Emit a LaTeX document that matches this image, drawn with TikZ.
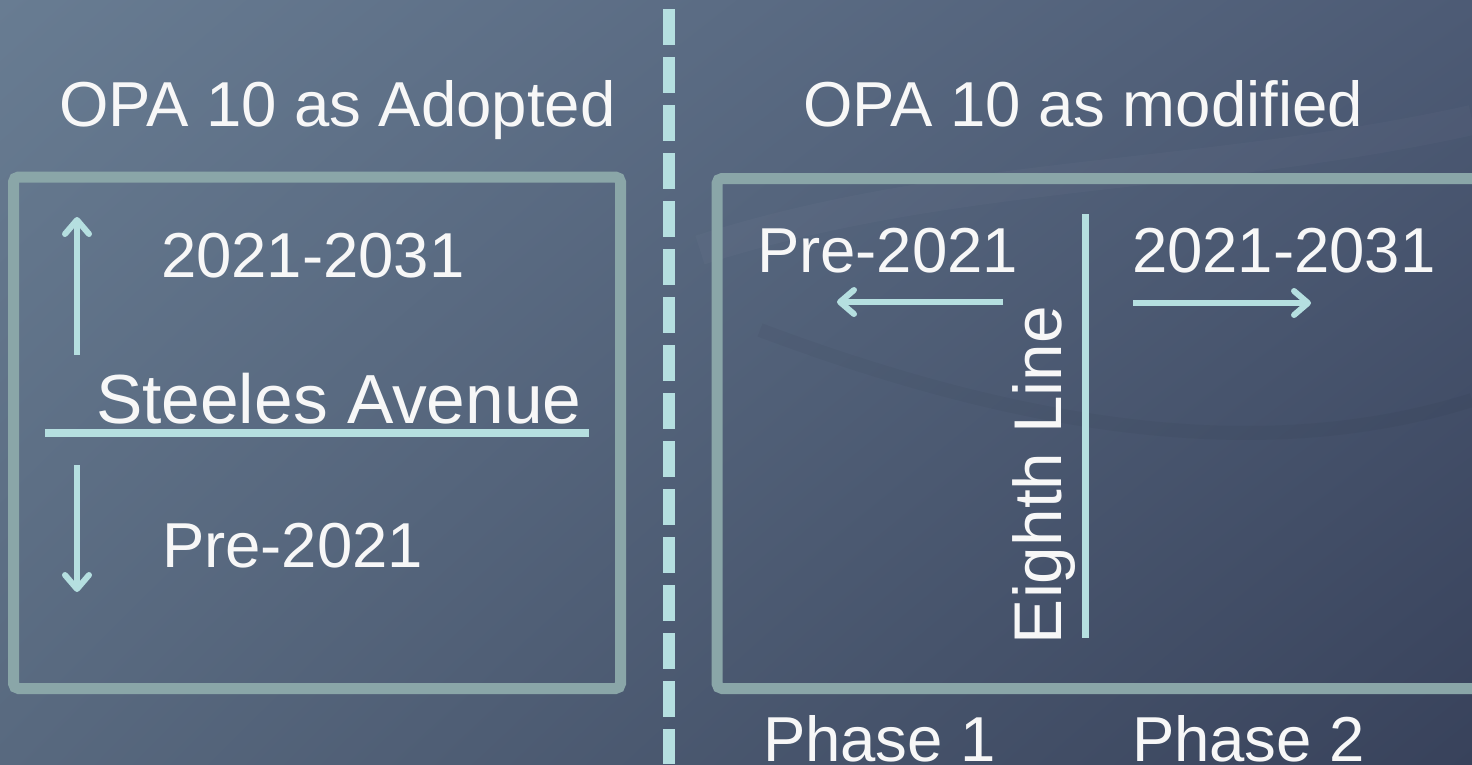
\documentclass[tikz,border=0pt]{standalone}
\usepackage{fontspec}
\setmainfont{Liberation Sans}
\usetikzlibrary{arrows.meta,shadings}
\definecolor{boxc}{HTML}{8AA6A8}
\definecolor{linec}{HTML}{B5DFE0}
\definecolor{bgul}{HTML}{687C92}
\definecolor{bgur}{HTML}{4D5B75}
\definecolor{bgll}{HTML}{58697F}
\definecolor{bglr}{HTML}{38425B}
\tikzset{
  lbl/.style={text=white!97!black, inner sep=0pt, outer sep=0pt, anchor=base west, font=\fontsize{63.5}{76}\selectfont},
  frame/.style={draw=boxc, line width=11pt, rounded corners=5pt},
  guide/.style={draw=linec, line width=6pt},
  arr/.style={guide, -{Straight Barb[length=14pt,width=24pt,line cap=round,line join=round]}, line cap=butt},
  divider/.style={draw=linec, line width=12pt, dash pattern=on 36pt off 12pt}
}
\begin{document}
\begin{tikzpicture}[x=1pt,y=-1pt]
\useasboundingbox (0,0) rectangle (1472,764);
\clip (0,0) rectangle (1472,764);
\shade[upper left=bgul, upper right=bgur, lower left=bgll, lower right=bglr] (0,0) rectangle (1472,764);
% faint background swooshes
\draw[white, opacity=0.025, line width=30pt] (700,250) .. controls (950,170) and (1200,180) .. (1472,120);
\draw[black, opacity=0.03, line width=14pt] (760,330) .. controls (1000,420) and (1250,470) .. (1472,400);

% divider
\coordinate (dtop) at (669,9);
\coordinate (dbot) at (669,764);
\draw[divider] (dtop) -- (dbot);

% frames
\draw[frame] (13.5,177) rectangle (620.5,688.5);
\draw[frame] (717,178.5) rectangle (1500,688.5);

% titles
\node[lbl] (tA) at (59,126) {OPA 10 as Adopted};
\node[lbl] (tM) at (803,126) {OPA 10 as modified};

% left panel
\node[lbl] (l2021) at (161,277) {2021-2031};
\node[lbl, font=\fontsize{69.5}{82}\selectfont] (steeles) at (96,423) {Steeles Avenue};
\node[lbl] (lpre) at (162,567) {Pre-2021};
\coordinate (sa) at (45,432.5);
\coordinate (sb) at (589,432.5);
\draw[guide, line width=8pt] (sa) -- (sb);
\coordinate (ua) at (77,355);
\coordinate (ub) at (77,217);
\draw[arr] (ua) -- (ub);
\coordinate (da) at (77,465);
\coordinate (db) at (77,592);
\draw[arr] (da) -- (db);

% right panel
\node[lbl] (rpre) at (757,272) {Pre-2021};
\node[lbl] (r2021) at (1132,272) {2021-2031};
\coordinate (la) at (1003,302);
\coordinate (lb) at (837,302);
\draw[arr] (la) -- (lb);
\coordinate (ra) at (1133,303);
\coordinate (rb) at (1311,303);
\draw[arr] (ra) -- (rb);
\coordinate (ea) at (1085,214);
\coordinate (eb) at (1085,638);
\draw[guide, line width=7pt] (ea) -- (eb);
\node[lbl, rotate=90, font=\fontsize{67.5}{80}\selectfont] (eighth) at (1061,644) {Eighth Line};

% phases
\node[lbl] (p1) at (763,761) {Phase 1};
\node[lbl] (p2) at (1132,761) {Phase 2};
\end{tikzpicture}
\end{document}
